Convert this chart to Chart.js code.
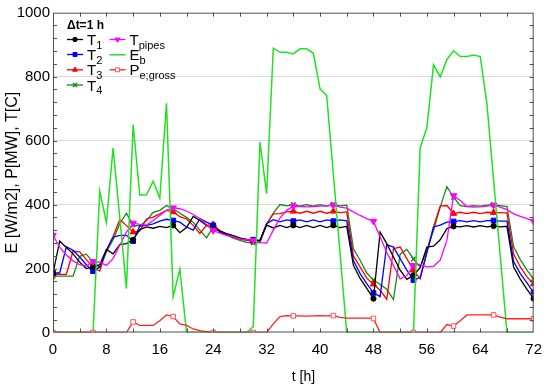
<!DOCTYPE html>
<html>
<head>
<meta charset="utf-8">
<script src="https://cdn.jsdelivr.net/npm/chart.js@4.4.1/dist/chart.umd.min.js"></script>
<style>
html, body { margin: 0; padding: 0; background: #fff; }
#wrap { width: 550px; height: 387px; }
</style>
</head>
<body>
<div id="wrap"><canvas id="chart"></canvas></div>
<script>
// time axis (hours, 1 h step)
const hours = [0,1,2,3,4,5,6,7,8,9,10,11,12,13,14,15,16,17,18,19,20,21,22,23,24,
  25,26,27,28,29,30,31,32,33,34,35,36,37,38,39,40,41,42,43,44,45,46,47,48,
  49,50,51,52,53,54,55,56,57,58,59,60,61,62,63,64,65,66,67,68,69,70,71,72];

const T1 = [185,286,266,246,220,200,205,212,260,246,275,278,290,322,330,326,332,328,335,312,328,363,350,335,325,
  318,309,303,296,291,288,289,336,327,335,328,335,328,335,328,335,328,335,328,332,210,169,138,106,
  314,278,236,195,166,179,203,267,270,290,325,332,330,334,330,334,330,333,330,332,205,167,135,106];

const T2 = [186,186,268,257,236,212,192,205,257,298,304,304,286,333,335,340,348,354,350,345,330,320,356,345,335,
  314,305,299,294,290,290,287,340,353,346,352,348,352,346,352,346,352,348,352,349,225,184,153,124,
  112,275,267,231,195,164,172,250,330,336,345,347,350,346,350,346,350,350,348,348,222,184,155,125];

const T3 = [182,182,182,254,252,228,203,192,257,300,352,335,314,318,355,361,371,382,377,362,355,335,310,335,338,
  318,306,298,292,288,285,285,340,371,372,377,379,373,379,373,379,373,379,375,377,240,205,170,151,
  132,104,262,267,231,195,168,250,330,395,397,372,376,372,376,372,376,375,375,374,245,205,174,152];

const T4 = [176,176,176,176,238,245,220,203,252,290,340,373,336,333,350,376,382,397,387,373,360,345,320,296,330,
  318,305,295,288,282,280,281,338,373,400,396,400,395,400,395,400,395,400,396,398,262,226,186,164,
  150,135,103,245,260,230,205,257,319,392,456,423,397,394,397,395,398,400,397,394,268,228,195,168];

const Tpipes = [304,267,242,224,212,208,222,220,210,231,273,314,342,338,336,350,366,382,390,387,380,369,356,338,319,
  311,304,299,293,290,288,281,280,320,358,382,395,394,393,394,395,396,399,392,389,377,366,356,348,
  299,250,210,168,178,210,213,205,207,226,288,428,413,394,392,393,395,398,392,384,371,363,356,348];

const Eb = [0,0,0,0,0,0,0,442,344,577,360,137,650,430,430,473,420,717,112,198,0,0,0,0,0,
  0,0,0,0,0,18,595,434,889,876,876,871,887,887,873,762,741,494,247,0,0,0,0,0,
  0,0,0,0,0,0,577,640,837,799,853,881,863,863,868,863,715,477,238,0,0,0,0,0];

const PeGross = [0,0,0,0,0,0,0,0,0,0,0,0,33,22,22,22,37,55,50,27,22,11,6,3,0,
  0,0,0,0,0,0,0,0,27,50,53,52,52,51,52,53,52,53,47,45,45,45,45,44,
  0,0,0,0,0,0,0,0,0,0,25,20,37,55,55,55,55,55,48,43,43,43,43,43];

const xTicks = [0,8,16,24,32,40,48,56,64,72];
const yTicks = [0,200,400,600,800,1000];

const FONT = 'Liberation Sans, Arial, sans-serif';

function pts(arr) { return arr.map((v, i) => ({ x: hours[i], y: v })); }
function every6(r) { return ctx => (ctx.dataIndex % 6 === 0 ? r : 0); }

function series(label, arr, color, style, r, extra) {
  return Object.assign({
    label: label,
    data: pts(arr),
    borderColor: color,
    backgroundColor: color,
    borderWidth: 1.3,
    pointStyle: style,
    pointRadius: every6(r),
    pointHoverRadius: 0,
    pointBorderWidth: 1,
    tension: 0
  }, extra || {});
}

const datasets = [
  series('Pe;gross', PeGross, '#ff2020', 'rect', 3.2, { backgroundColor: '#ffffff', pointBorderColor: '#ff5050' }),
  series('Eb', Eb, '#22e022', false, 0, { borderWidth: 1.5, pointRadius: 0 }),
  series('Tpipes', Tpipes, '#ff00ff', 'triangle', 3.8, { pointRotation: 180 }),
  series('T1', T1, '#000000', 'circle', 2.6),
  series('T2', T2, '#0000ff', 'rect', 3.4),
  series('T3', T3, '#ff0000', 'triangle', 3.6),
  series('T4', T4, '#138a13', 'crossRot', 3.2, { pointBorderWidth: 1.5 })
];

// frame, inside ticks, x title and legend
const decor = {
  id: 'decor',
  afterDatasetsDraw(chart) {
    const c = chart.ctx, a = chart.chartArea;
    const xs = chart.scales.x, ys = chart.scales.y;
    c.save();
    c.strokeStyle = '#505050';
    c.lineWidth = 1;
    c.strokeRect(a.left + 0.5, a.top + 0.5, a.right - a.left - 1, a.bottom - a.top - 1);
    c.beginPath();
    for (let t = 4; t < 72; t += 4) {
      const px = Math.round(xs.getPixelForValue(t)) + 0.5;
      c.moveTo(px, a.bottom); c.lineTo(px, a.bottom - 4);
      c.moveTo(px, a.top); c.lineTo(px, a.top + 4);
    }
    for (let v = 40; v < 1000; v += 40) {
      const py = Math.round(ys.getPixelForValue(v)) + 0.5;
      c.moveTo(a.left, py); c.lineTo(a.left + 4, py);
      c.moveTo(a.right, py); c.lineTo(a.right - 4, py);
    }
    c.stroke();

    c.fillStyle = '#000';
    c.font = '14px ' + FONT;
    c.textAlign = 'center';
    c.textBaseline = 'middle';
    c.fillText('t [h]', 303.5, 377);
    c.restore();
  },
  afterDraw(chart) {
    const c = chart.ctx;
    c.save();
    c.fillStyle = '#000';
    c.textBaseline = 'alphabetic';
    c.textAlign = 'left';
    c.font = 'bold 12px ' + FONT;
    c.fillText('\u0394t=1 h', 67, 29);

    const entries = [
      { ds: datasets[3], x: 67, y: 39.5, main: 'T', sub: '1' },
      { ds: datasets[4], x: 67, y: 54.5, main: 'T', sub: '2' },
      { ds: datasets[5], x: 67, y: 69.8, main: 'T', sub: '3' },
      { ds: datasets[6], x: 67, y: 85, main: 'T', sub: '4' },
      { ds: datasets[2], x: 109.5, y: 39.5, main: 'T', sub: 'pipes' },
      { ds: datasets[1], x: 109.5, y: 54.8, main: 'E', sub: 'b' },
      { ds: datasets[0], x: 109.5, y: 69.8, main: 'P', sub: 'e;gross' }
    ];
    entries.forEach(e => {
      const ds = e.ds;
      c.strokeStyle = ds.borderColor;
      c.lineWidth = ds.borderWidth;
      c.beginPath();
      c.moveTo(e.x, e.y); c.lineTo(e.x + 16, e.y);
      c.stroke();
      if (ds.pointStyle) {
        c.fillStyle = ds.backgroundColor;
        c.strokeStyle = ds.pointBorderColor || ds.borderColor;
        c.lineWidth = ds.pointBorderWidth;
        Chart.helpers.drawPoint(c, {
          pointStyle: ds.pointStyle,
          radius: ds.pointStyle === 'circle' ? 2.2 : 2.8,
          rotation: ds.pointRotation || 0,
          borderWidth: ds.pointBorderWidth
        }, e.x + 8, e.y);
      }
      c.fillStyle = '#000';
      c.font = '15px ' + FONT;
      const tx = e.x + 20;
      c.fillText(e.main, tx, e.y + 5.5);
      const w = c.measureText(e.main).width;
      c.font = '11px ' + FONT;
      c.fillText(e.sub, tx + w, e.y + 9);
    });
    c.restore();
  }
};

new Chart(document.getElementById('chart'), {
  type: 'line',
  data: { datasets: datasets },
  options: {
    responsive: true,
    maintainAspectRatio: false,
    animation: false,
    events: [],
    layout: { padding: { top: 12.7, right: 13, left: 0, bottom: 0 } },
    plugins: { legend: { display: false }, tooltip: { enabled: false } },
    scales: {
      x: {
        type: 'linear',
        min: 0, max: 72,
        afterFit: s => { s.height = 54.5; },
        afterBuildTicks: s => { s.ticks = xTicks.map(v => ({ value: v })); },
        grid: { display: false, drawTicks: false },
        border: { display: false },
        ticks: { color: '#000', font: { family: FONT, size: 15 }, padding: 8, maxRotation: 0,
          callback: v => String(v) }
      },
      y: {
        type: 'linear',
        min: 0, max: 1000,
        afterFit: s => { s.width = 53; },
        afterBuildTicks: s => { s.ticks = yTicks.map(v => ({ value: v })); },
        grid: {
          drawTicks: false,
          color: ctx => (ctx.tick && ctx.tick.value > 0 && ctx.tick.value < 1000 ? '#d9d9d9' : 'rgba(0,0,0,0)'),
          lineWidth: 1
        },
        border: { display: false },
        ticks: { color: '#000', font: { family: FONT, size: 15 }, padding: 3,
          callback: v => String(v) },
        title: {
          display: true,
          text: 'E [W/m2], P[MW], T[C]',
          color: '#000',
          font: { family: FONT, size: 16 },
          padding: { top: 3, bottom: 0 }
        }
      }
    }
  },
  plugins: [decor]
});
</script>
</body>
</html>
